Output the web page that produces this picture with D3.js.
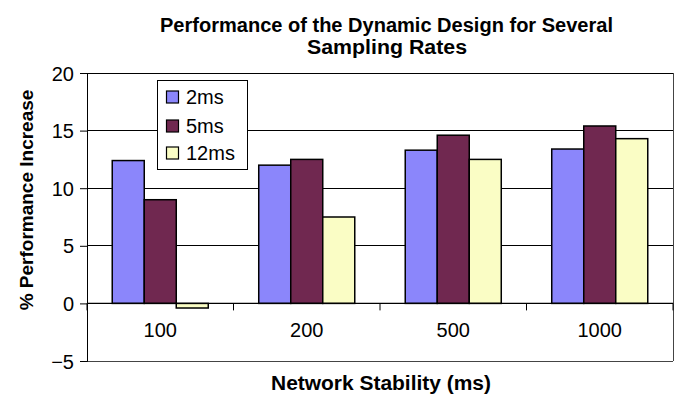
<!DOCTYPE html>
<html><head><meta charset="utf-8">
<script src="https://cdn.jsdelivr.net/npm/d3@7/dist/d3.min.js"></script>
<style>body{margin:0;background:#fff}svg{display:block}text{font-family:"Liberation Sans",Arial,sans-serif}</style>
</head><body><svg id="c" width="676" height="397"></svg>
<script>
const categories = ["100", "200", "500", "1000"];
const seriesNames = ["2ms", "5ms", "12ms"];
const values2ms = [12.4, 12.0, 13.3, 13.4];
const values5ms = [9.0, 12.5, 14.6, 15.4];
const values12ms = [-0.4, 7.5, 12.5, 14.3];
const yTicks = [-5, 0, 5, 10, 15, 20];
const colors = ["#8b86fb", "#702850", "#fafdc5"];
const seriesValues = [values2ms, values5ms, values12ms];

const svg = d3.select("#c");
const pL = 87, pR = 673, pT = 73, pB = 361;
const y = d3.scaleLinear().domain([-5, 20]).range([pB, pT]);
const x = d3.scaleBand().domain(categories).range([pL, pR]).padding(0);
const bw = x.bandwidth();
const x1 = d3.scaleBand().domain(seriesNames).range([bw * 0.1723, bw * 0.8277]).padding(0);

// gridlines
svg.append("g").selectAll("line").data(yTicks.filter(d => d > 0)).join("line")
  .attr("x1", pL).attr("x2", pR).attr("y1", d => y(d)).attr("y2", d => y(d))
  .attr("stroke", "#000").attr("stroke-width", 1).attr("shape-rendering", "crispEdges");
// frame right/bottom
svg.append("line").attr("x1", pR).attr("x2", pR).attr("y1", pT).attr("y2", pB)
  .attr("stroke", "#444").attr("shape-rendering", "crispEdges");
svg.append("line").attr("x1", pL).attr("x2", pR).attr("y1", pB).attr("y2", pB)
  .attr("stroke", "#444").attr("shape-rendering", "crispEdges");

// bars
const barData = [];
categories.forEach((c, i) => seriesNames.forEach((s, j) => barData.push({c, s, v: seriesValues[j][i], j})));
svg.append("g").selectAll("rect").data(barData).join("rect")
  .attr("x", d => x(d.c) + x1(d.s))
  .attr("width", x1.bandwidth())
  .attr("y", d => y(Math.max(0, d.v)))
  .attr("height", d => Math.abs(y(d.v) - y(0)))
  .attr("fill", d => colors[d.j])
  .attr("stroke", "#000").attr("stroke-width", 1.5);

// y axis
const yAxis = d3.axisLeft(y).tickValues(yTicks).tickSize(7).tickPadding(6).tickFormat(d3.format("d"));
const gy = svg.append("g").attr("transform", `translate(${pL},0)`).call(yAxis);
gy.select(".domain").attr("stroke", "#000");
gy.selectAll("text").attr("font-size", 20).attr("fill", "#000").attr("dy", "0.35em");
gy.selectAll("line").attr("stroke", "#000");

// zero axis line
svg.append("line").attr("x1", pL).attr("x2", pR).attr("y1", y(0)).attr("y2", y(0))
  .attr("stroke", "#000").attr("stroke-width", 1.2);
// x ticks at boundaries
const bounds = categories.map(c => x(c)).concat([pR]);
svg.append("g").selectAll("line").data(bounds).join("line")
  .attr("x1", d => d).attr("x2", d => d).attr("y1", y(0)).attr("y2", y(0) + 7)
  .attr("stroke", "#000");
// x labels
svg.append("g").selectAll("text").data(categories).join("text")
  .attr("x", d => x(d) + bw / 2).attr("y", 337).attr("text-anchor", "middle")
  .attr("font-size", 20).text(d => d);

// titles
svg.append("text").attr("x", 386.5).attr("y", 32).attr("text-anchor", "middle")
  .attr("font-size", 19.5).attr("font-weight", "bold")
  .attr("textLength", 453).attr("lengthAdjust", "spacingAndGlyphs")
  .text("Performance of the Dynamic Design for Several");
svg.append("text").attr("x", 387).attr("y", 54).attr("text-anchor", "middle")
  .attr("font-size", 19.5).attr("font-weight", "bold")
  .attr("textLength", 160).attr("lengthAdjust", "spacingAndGlyphs")
  .text("Sampling Rates");
svg.append("text").attr("x", 381).attr("y", 390).attr("text-anchor", "middle")
  .attr("font-size", 19.5).attr("font-weight", "bold")
  .attr("textLength", 220).attr("lengthAdjust", "spacingAndGlyphs")
  .text("Network Stability (ms)");
svg.append("text").attr("transform", "translate(33,200) rotate(-90)").attr("text-anchor", "middle")
  .attr("font-size", 19).attr("font-weight", "bold").text("% Performance Increase");

// legend
const lg = svg.append("g");
lg.append("rect").attr("x", 157.5).attr("y", 80.5).attr("width", 90).attr("height", 89)
  .attr("fill", "#fff").attr("stroke", "#000");
const ly = [97, 126, 153];
seriesNames.forEach((s, j) => {
  lg.append("rect").attr("x", 166.5).attr("y", ly[j] - 6).attr("width", 12).attr("height", 12)
    .attr("fill", colors[j]).attr("stroke", "#000").attr("stroke-width", 1.2);
  lg.append("text").attr("x", 186).attr("y", ly[j] + 6.5).attr("font-size", 20).text(s);
});
</script></body></html>
